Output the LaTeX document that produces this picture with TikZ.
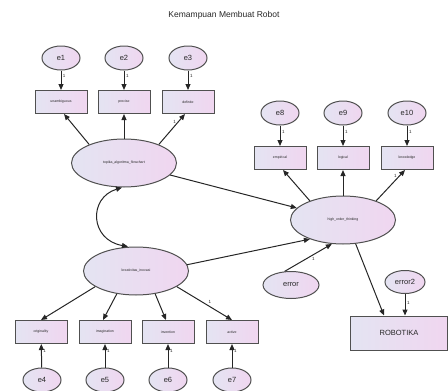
\documentclass[tikz,border=0pt]{standalone}
\usepackage{fontspec}
\setmainfont{Liberation Sans}
\usetikzlibrary{shapes.geometric,arrows.meta,calc}
\definecolor{fillL}{RGB}{228,228,242}
\definecolor{fillR}{RGB}{240,214,240}
\definecolor{edge}{RGB}{80,80,80}
\tikzset{
  every node/.style={font=\fontsize{3.5}{4}\selectfont, text=black!85},
  obs/.style={draw=edge, line width=1pt, rectangle, minimum width=52pt, minimum height=23pt, inner sep=0pt, left color=fillL, right color=fillR},
  err/.style={draw=edge, line width=1pt, ellipse, minimum width=38pt, minimum height=24pt, inner sep=0pt, left color=fillL, right color=fillR, font=\fontsize{7.5}{8}\selectfont},
  lat/.style={draw=edge, line width=1pt, ellipse, minimum width=105pt, minimum height=48pt, inner sep=0pt, left color=fillL, right color=fillR},
  arr/.style={draw=black!85, line width=1pt, -{Triangle[length=6pt,width=5pt]}},
  one/.style={font=\fontsize{4.5}{5}\selectfont, text=black!85, inner sep=0.5pt}
}
\begin{document}
\begin{tikzpicture}[x=1pt,y=-1pt]
\useasboundingbox (0,0) rectangle (448,391);
\node (title) at (224,15) {\fontsize{8.5}{9}\selectfont Kemampuan Membuat Robot};
% top-left group
\node[err] (e1) at (61,58) {e1};
\node[err] (e2) at (124,58) {e2};
\node[err] (e3) at (188,58) {e3};
\node[obs] (unamb) at (61,102) {unambiguous};
\node[obs] (precise) at (124,102) {precise};
\node[obs] (definite) at (188,102) {definite};
\node[lat] (topiks) at (124,163) {topika\_algoritma\_flowchart};
% right group
\node[err] (e8) at (280,113) {e8};
\node[err] (e9) at (343,113) {e9};
\node[err] (e10) at (407,113) {e10};
\node[obs] (empirical) at (280,158) {empirical};
\node[obs] (logical) at (343,158) {logical};
\node[obs] (knowledge) at (407,158) {knowledge};
\node[lat] (hot) at (343,220) {high\_order\_thinking};
% bottom group
\node[lat] (kreat) at (136,271) {kreativitas\_inovasi};
\node[obs] (orig) at (41,332) {originality};
\node[obs] (imag) at (105,332) {imagination};
\node[obs] (inv) at (168,332) {invention};
\node[obs] (active) at (232,332) {active};
\node[err] (e4) at (42,380) {e4};
\node[err] (e5) at (105,380) {e5};
\node[err] (e6) at (168,380) {e6};
\node[err] (e7) at (232,380) {e7};
% error nodes
\node[err, minimum width=56pt, minimum height=27pt] (error) at (291,285) {error};
\node[err, minimum width=40pt, minimum height=23pt] (error2) at (405,282) {error2};
\node[obs, minimum width=97pt, minimum height=34pt, font=\fontsize{7.5}{8}\selectfont] (robot) at (399,333) {ROBOTIKA};
% error arrows
\foreach \e/\b in {e1/unamb,e2/precise,e3/definite,e8/empirical,e9/logical,e10/knowledge}{
  \draw[arr] (\e) -- node[one, pos=0.3, right=1pt]{1} (\b);
}
\foreach \e/\b in {e4/orig,e5/imag,e6/inv,e7/active}{
  \draw[arr] (\e) -- node[one, pos=0.7, right=1pt]{1} (\b);
}
% loadings
\draw[arr] (topiks.152) -- ([xshift=3pt]unamb.south);
\draw[arr] (topiks.north) -- (precise.south);
\draw[arr] (topiks.28) -- node[one, pos=0.75, left=1.5pt]{1} ([xshift=-3pt]definite.south);
\draw[arr] (hot.150) -- ([xshift=3pt]empirical.south);
\draw[arr] (hot.north) -- (logical.south);
\draw[arr] (hot.30) -- node[one, pos=0.8, left=1.5pt]{1} ([xshift=-2pt]knowledge.south);
\draw[arr] (kreat.201) -- (orig.north);
\draw[arr] (kreat.230) -- ([xshift=-2pt]imag.north);
\draw[arr] (kreat.310) -- ([xshift=-2pt]inv.north);
\draw[arr] (kreat.339) -- node[one, pos=0.55, above right=0.5pt]{1} (active.north);
% structural
\draw[arr] (topiks) -- (hot);
\draw[arr] (kreat.7) -- (hot.210);
\draw[arr] (error.115) -- node[one, pos=0.55, below right=0.5pt]{1} (hot.245);
\draw[arr] (hot.298) -- ([xshift=-15pt]robot.north);
\draw[arr] (error2) -- node[one, pos=0.4, right=1pt]{1} ([xshift=6pt]robot.north);
% covariance
\draw[draw=black!85, line width=1pt, {Triangle[length=6pt,width=5pt]}-{Triangle[length=6pt,width=5pt]}]
  ([xshift=-2pt]topiks.south) .. controls (88,198) and (90,240) .. ([xshift=-8pt]kreat.north);
\end{tikzpicture}
\end{document}
